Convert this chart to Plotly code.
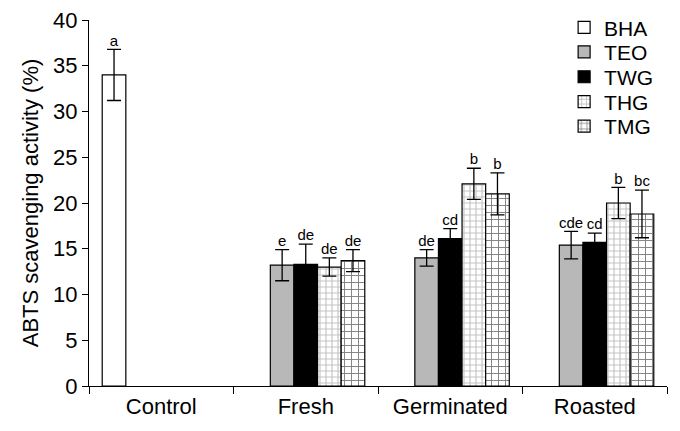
import plotly.graph_objects as go

categories = ["Control", "Fresh", "Germinated", "Roasted"]
series = ["BHA", "TEO", "TWG", "THG", "TMG"]

BHA = [34.0, None, None, None]
TEO = [None, 13.2, 14.0, 15.4]
TWG = [None, 13.3, 16.1, 15.7]
THG = [None, 13.0, 22.1, 20.0]
TMG = [None, 13.7, 21.0, 18.8]

BHA_err = [2.8, None, None, None]
TEO_err = [None, 1.7, 0.9, 1.5]
TWG_err = [None, 2.2, 1.1, 1.0]
THG_err = [None, 1.0, 1.7, 1.7]
TMG_err = [None, 1.2, 2.3, 2.6]

BHA_lbl = ["a", "", "", ""]
TEO_lbl = ["", "e", "de", "cde"]
TWG_lbl = ["", "de", "cd", "cd"]
THG_lbl = ["", "de", "b", "b"]
TMG_lbl = ["", "de", "b", "bc"]

values = [BHA, TEO, TWG, THG, TMG]
errors = [BHA_err, TEO_err, TWG_err, THG_err, TMG_err]
labels = [BHA_lbl, TEO_lbl, TWG_lbl, THG_lbl, TMG_lbl]

styles = {
    "BHA": dict(color="white"),
    "TEO": dict(color="#b8b8b8"),
    "TWG": dict(color="black"),
    "THG": dict(color="white", pattern=dict(shape="+", fgcolor="#888888", bgcolor="white", size=6, solidity=0.35)),
    "TMG": dict(color="white", pattern=dict(shape="+", fgcolor="black", bgcolor="white", size=7, solidity=0.25)),
}

# one legend per entry so the rows can sit as tightly as in the original
legend_ids = ["legend", "legend2", "legend3", "legend4", "legend5"]
legend_y = [0.979, 0.912, 0.844, 0.776, 0.709]

FONT = "Liberation Sans, Arial, sans-serif"
fig = go.Figure()
for name, v, e, lid in zip(series, values, errors, legend_ids):
    fig.add_trace(go.Bar(
        name=name, x=categories, y=v, offsetgroup=name, legend=lid,
        marker=dict(line=dict(color="black", width=1.2), **styles[name]),
        error_y=dict(type="data", array=e, color="black", thickness=1.3, width=7),
    ))

for name, v, e, l in zip(series, values, errors, labels):
    ys = [(a + b) if a is not None else None for a, b in zip(v, e)]
    fig.add_trace(go.Scatter(
        x=categories, y=ys, text=l, mode="text", textposition="top center",
        offsetgroup=name, showlegend=False, hoverinfo="skip",
        textfont=dict(size=15, color="black", family=FONT),
    ))

legend_common = dict(x=0.822, xanchor="left", yanchor="middle", yref="paper",
                     font=dict(size=21), itemwidth=30, bgcolor="rgba(0,0,0,0)")

# page body has an 8px margin, so the figure is 8px narrower/shorter
fig.update_layout(
    width=672, height=423,
    margin=dict(l=81, r=13, t=12, b=45, autoexpand=False),
    paper_bgcolor="white", plot_bgcolor="white",
    barmode="group", bargap=0.183, bargroupgap=0,
    scattermode="group", scattergap=0.183,
    font=dict(family=FONT, size=22, color="black"),
    showlegend=True,
    xaxis=dict(showline=True, linecolor="black", linewidth=1.2, automargin=False,
               ticks="outside", tickson="boundaries", ticklen=7, tickcolor="black",
               tickfont=dict(size=22), showgrid=False),
    yaxis=dict(range=[0, 40], dtick=5, showline=True, linecolor="black", linewidth=1.2,
               automargin=False, ticklabeloverflow="allow",
               ticks="outside", ticklen=6, tickcolor="black", showgrid=False, zeroline=False,
               tickfont=dict(size=22),
               title=dict(text="ABTS scavenging activity (%)", font=dict(size=22), standoff=8)),
)
for lid, ly in zip(legend_ids, legend_y):
    fig.update_layout({lid: dict(y=ly, **legend_common)})

fig.write_html("out.html")
